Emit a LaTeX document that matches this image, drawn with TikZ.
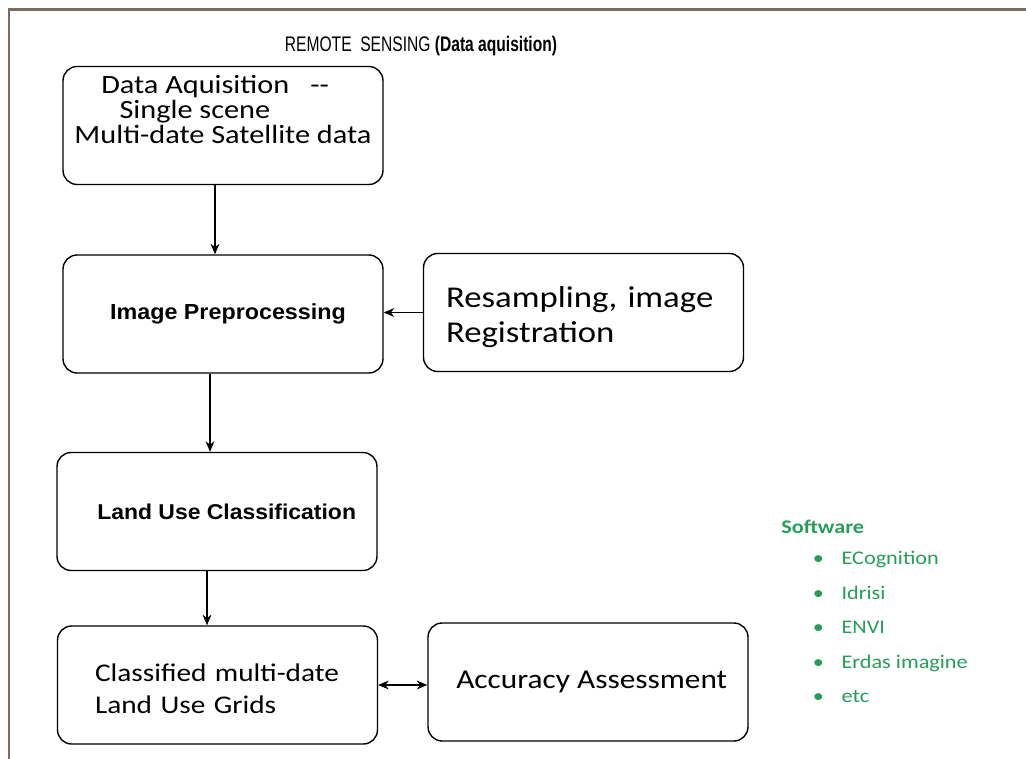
\documentclass[tikz,border=0pt]{standalone}
\usepackage{fontspec}
\setmainfont{Carlito}[FakeStretch=1.15]
\newfontfamily\arialfont{Liberation Sans}[FakeStretch=1.07]
\newfontfamily\titlefont{Liberation Sans}[FakeStretch=0.74]
\usepackage{tikz}
\usetikzlibrary{arrows.meta,positioning,calc}

\definecolor{framebrown}{RGB}{125,107,96}
\definecolor{softgreen}{RGB}{38,158,88}

\frenchspacing

\begin{document}
\begin{tikzpicture}[x=0.02cm, y=-0.02cm]
\tikzset{
	base/.style = { rectangle, rounded corners=8pt, draw=black, line width=0.8pt, minimum width=6.4cm, minimum height=2.36cm, inner sep=0pt },
	plain/.style = { base, align=center, font=\fontsize{15}{14.2}\selectfont },
	heading/.style = { base, align=center, font=\arialfont\bfseries\fontsize{12.4}{14}\selectfont },
	leftbox/.style = { base, align=left },
	arrow/.style = { line width=0.8pt, -{Stealth[length=6pt,width=5pt]} },
	twoway/.style = { line width=0.8pt, {Stealth[length=6pt,width=5pt]}-{Stealth[length=6pt,width=5pt]} }
}
	\useasboundingbox (0,0) rectangle (1026,759);
	% outer frame
	\draw [framebrown, line width=1.7pt] (9,759) -- (9,10) -- (1026,10);

	\node (title) [font=\titlefont\fontsize{12}{14}\selectfont] at (421,46) {REMOTE\ \ SENSING\ \textbf{(Data aquisition)}};

	% left column
	\node (dataAcq) [plain] at (223,125.5) {\mbox{Data Aquisition\hspace{12pt}-{}-\hspace{9pt}}\\ \mbox{Single scene\hspace{32pt}}\\ Multi-date Satellite data\\[4pt] \mbox{}};
	\node (preProc) [heading] at (223,314) {\hspace*{5.7pt}Image Preprocessing};
	\node (landUse) [heading, font=\arialfont\bfseries\fontsize{12.2}{14}\selectfont] at (217,511.5) {\hspace*{11pt}Land Use Classification};
	\node (classified) [leftbox, font=\fontsize{14.5}{18}\selectfont, text width=4.9cm] at (217.5,685) {\rule{0pt}{14pt}Classified multi-date\\ Land Use Grids};

	% right column
	\node (resample) [leftbox, font=\fontsize{17.2}{20}\selectfont, text width=5.5cm] at (583.5,312.5) {\rule{0pt}{17pt}Resampling, image\\ Registration};
	\node (accuracy) [base, font=\fontsize{15.5}{19}\selectfont] at (588,682) {\hspace{0.15cm}Accuracy Assessment};

	% software list
	\node (software) [anchor=north west, align=left, inner sep=0pt, text=softgreen, font=\fontsize{11}{19.6}\selectfont] at (781,520) {\textbf{Software}\\[-2pt]
		\hspace{18pt}\textbullet\hspace{10pt}ECognition\\
		\hspace{18pt}\textbullet\hspace{10pt}Idrisi\\
		\hspace{18pt}\textbullet\hspace{10pt}ENVI\\
		\hspace{18pt}\textbullet\hspace{10pt}Erdas imagine\\
		\hspace{18pt}\textbullet\hspace{10pt}etc};

	% paths
	\draw [arrow] ([xshift=-0.16cm]dataAcq.south) -- ([xshift=-0.16cm]dataAcq.south |- preProc.north);
	\draw [arrow] (resample.west) -- (resample.west -| preProc.east);
	\draw [arrow] ([xshift=-0.26cm]preProc.south) -- ([xshift=-0.26cm]preProc.south |- landUse.north);
	\draw [arrow] ([xshift=-0.2cm]landUse.south) -- ([xshift=-0.2cm]landUse.south |- classified.north);
	\draw [twoway] (classified.east) -- (classified.east -| accuracy.west);
\end{tikzpicture}
\end{document}
